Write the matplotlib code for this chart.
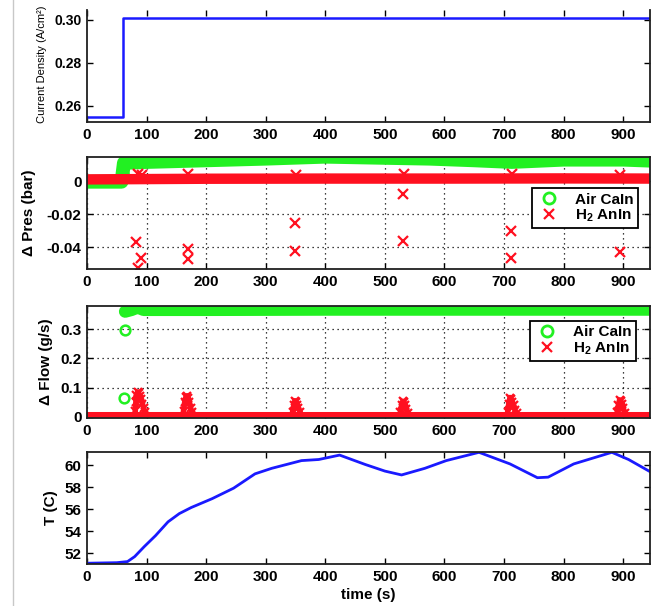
import matplotlib
matplotlib.use("Agg")
import matplotlib.pyplot as plt
from matplotlib.lines import Line2D

# time axis (s)
time_ticks = [0, 100, 200, 300, 400, 500, 600, 700, 800, 900]

# current density step (A/cm2)
cd_t = [0, 61, 61, 945]
cd = [0.2550, 0.2550, 0.3008, 0.3008]

# delta pressure (bar)
dp_air_t = [0, 58, 62, 100, 200, 300, 400, 500, 575, 650, 713, 800, 900, 945]
dp_air = [-0.0002, -0.0002, 0.0112, 0.0118, 0.0128, 0.0138, 0.015, 0.0143,
          0.0138, 0.0128, 0.0118, 0.0132, 0.0132, 0.0126]
dp_air_step_t = [60]
dp_air_step = [0.0045]
dp_h2_t = [0, 200, 400, 600, 800, 945]
dp_h2 = [0.0012, 0.0016, 0.0017, 0.0017, 0.0018, 0.0017]
dp_h2_out_t = [83, 85, 91, 169, 169, 349, 349, 531, 531, 712, 712, 894,
               86, 92, 169, 350, 532, 713, 895]
dp_h2_out = [-0.037, -0.0526, -0.0464, -0.041, -0.0474, -0.025, -0.0424,
             -0.0074, -0.0364, -0.0304, -0.0466, -0.043,
             0.0042, 0.004, 0.0045, 0.004, 0.0045, 0.0045, 0.004]

# delta flow (g/s)
flow_air_pre_t = [0, 60]
flow_air_pre = [-0.004, -0.004]
flow_air_step_t = [62, 63]
flow_air_step = [0.066, 0.297]
flow_air_t = [64, 75, 85, 95, 200, 400, 600, 800, 945]
flow_air = [0.360, 0.366, 0.374, 0.366, 0.366, 0.367, 0.367, 0.367, 0.367]
flow_h2_t = [0, 945]
flow_h2 = [0.003, 0.003]
flow_h2_spk_t = [81, 82, 83, 85, 87, 89, 91, 93, 95, 97,
                 162, 164, 166, 168, 170, 172, 174, 176,
                 345, 347, 349, 351, 353, 355, 358,
                 526, 528, 530, 532, 534, 536, 539,
                 706, 708, 710, 712, 714, 716, 718, 721,
                 890, 892, 894, 896, 898, 900, 903]
flow_h2_spk = [0.02, 0.05, 0.075, 0.085, 0.08, 0.07, 0.06, 0.045, 0.03, 0.015,
               0.02, 0.05, 0.068, 0.072, 0.065, 0.05, 0.03, 0.015,
               0.015, 0.04, 0.055, 0.052, 0.04, 0.03, 0.015,
               0.015, 0.04, 0.053, 0.05, 0.04, 0.028, 0.012,
               0.015, 0.045, 0.066, 0.062, 0.05, 0.04, 0.025, 0.012,
               0.015, 0.04, 0.058, 0.055, 0.045, 0.03, 0.012]
# spike groups (start index, end index) into the lists above
spike_groups = [(0, 10), (10, 18), (18, 25), (25, 32), (32, 40), (40, 47)]

# temperature (C)
temp_t = [0, 50, 68, 80, 96, 115, 136, 155, 175, 210, 246, 282, 310, 360, 389,
          424, 467, 500, 528, 567, 603, 658, 710, 756, 774, 817, 881, 909, 945]
temp = [51.1, 51.15, 51.25, 51.7, 52.6, 53.6, 54.85, 55.6, 56.15, 56.95, 57.9,
        59.2, 59.7, 60.4, 60.5, 60.9, 60.05, 59.45, 59.1, 59.7, 60.4, 61.15,
        60.1, 58.85, 58.9, 60.1, 61.15, 60.5, 59.4]

GREEN = "#22f022"
RED = "#ff1020"
BLUE = "#1a1aff"

plt.rcParams["font.family"] = ["Liberation Sans", "DejaVu Sans"]
plt.rcParams["font.weight"] = "bold"
plt.rcParams["axes.labelweight"] = "bold"
plt.rcParams["mathtext.fontset"] = "custom"
plt.rcParams["mathtext.rm"] = "Liberation Sans:bold"
plt.rcParams["mathtext.it"] = "Liberation Sans:bold"
plt.rcParams["mathtext.bf"] = "Liberation Sans:bold"

fig = plt.figure(figsize=(6.63, 6.06), dpi=100)
L, W, H = 87 / 663, 563 / 663, 112 / 606
bottoms = [(606 - 122) / 606, (606 - 269) / 606, (606 - 418) / 606, (606 - 564) / 606]
axes = [fig.add_axes([L, b, W, H]) for b in bottoms]

for ax in axes:
    ax.set_xlim(0, 945)
    ax.set_xticks(time_ticks)
    ax.tick_params(direction="in", top=True, right=True, length=4, width=1,
                   labelsize=11, pad=4)
    for s in ax.spines.values():
        s.set_linewidth(1.3)
        s.set_color("#202020")

# panel 1: current density
ax1 = axes[0]
ax1.plot(cd_t, cd, color=BLUE, lw=1.8)
ax1.set_ylim(0.2525, 0.3045)
ax1.set_yticks([0.26, 0.28, 0.30])
ax1.set_yticklabels(["0.26", "0.28", "0.30"], fontsize=10)
ax1.spines["top"].set_visible(False)
ax1.set_ylabel("Current Density (A/cm²)", fontsize=8, fontweight="normal")
ax1.yaxis.set_label_coords(-0.071, 0.52)

legend_handles = [
    Line2D([], [], ls="none", marker="o", mfc="none", mec=GREEN, mew=2, ms=8),
    Line2D([], [], ls="none", marker="x", color=RED, mew=1.6, ms=7),
]
legend_labels = ["Air CaIn", r"H$_{\mathrm{2}}$ AnIn"]

# panel 2: delta pressure
ax2 = axes[1]
ax2.plot(dp_air_t, dp_air, color=GREEN, lw=10, solid_capstyle="round")
ax2.plot(dp_air_step_t, dp_air_step, ls="none", marker="o", mfc="none",
         mec=GREEN, mew=1.8, ms=7)
ax2.plot(dp_h2_t, dp_h2, color=RED, lw=7.5, solid_capstyle="butt")
ax2.plot(dp_h2_out_t, dp_h2_out, ls="none", marker="x", color=RED, mew=1.6, ms=7)
ax2.set_ylim(-0.0532, 0.0148)
ax2.set_yticks([-0.04, -0.02, 0])
ax2.set_yticklabels(["-0.04", "-0.02", "0"])
ax2.grid(True, color="black", ls=(0, (1, 3)), lw=0.9)
ax2.set_ylabel("Δ Pres (bar)", fontsize=11)
ax2.yaxis.set_label_coords(-0.09, 0.5)
ax2.legend(legend_handles, legend_labels, loc="upper right",
           bbox_to_anchor=(0.9787, 0.723), borderaxespad=0, fancybox=False,
           framealpha=1, edgecolor="black", fontsize=11, labelspacing=0.05,
           borderpad=0.3, handletextpad=0.9, handlelength=1.6)
ax2.get_legend().get_frame().set_linewidth(1.3)

# panel 3: delta flow
ax3 = axes[2]
ax3.plot(flow_air_pre_t, flow_air_pre, color=GREEN, lw=6.5, solid_capstyle="butt")
ax3.plot(flow_air_t, flow_air, color=GREEN, lw=9, solid_capstyle="round")
ax3.plot(flow_air_step_t, flow_air_step, ls="none", marker="o", mfc="none",
         mec=GREEN, mew=1.8, ms=7)
ax3.plot(flow_h2_t, flow_h2, color=RED, lw=6.5, solid_capstyle="butt")
for i0, i1 in spike_groups:
    ax3.plot(flow_h2_spk_t[i0:i1], flow_h2_spk[i0:i1], color=RED, lw=4,
             marker="x", mew=1.6, ms=6, solid_joinstyle="round")
ax3.set_ylim(-0.004, 0.379)
ax3.set_yticks([0, 0.1, 0.2, 0.3])
ax3.set_yticklabels(["0", "0.1", "0.2", "0.3"])
ax3.grid(True, color="black", ls=(0, (1, 3)), lw=0.9)
ax3.set_ylabel("Δ Flow (g/s)", fontsize=11)
ax3.yaxis.set_label_coords(-0.060, 0.5)
ax3.legend(legend_handles, legend_labels, loc="upper right",
           bbox_to_anchor=(0.975, 0.867), borderaxespad=0, fancybox=False,
           framealpha=1, edgecolor="black", fontsize=11, labelspacing=0.05,
           borderpad=0.3, handletextpad=0.9, handlelength=1.6)
ax3.get_legend().get_frame().set_linewidth(1.3)

# panel 4: temperature
ax4 = axes[3]
ax4.plot(temp_t, temp, color=BLUE, lw=2)
ax4.set_ylim(51.03, 61.18)
ax4.set_yticks([52, 54, 56, 58, 60])
ax4.set_ylabel("T (C)", fontsize=11)
ax4.yaxis.set_label_coords(-0.052, 0.5)
ax4.set_xlabel("time (s)", fontsize=11, labelpad=3)

# thin grey border line on the left of the page
fig.add_artist(Line2D([13 / 663, 13 / 663], [0, 1], color="#c8c8c8", lw=1))

fig.savefig("out.png", dpi=100)
